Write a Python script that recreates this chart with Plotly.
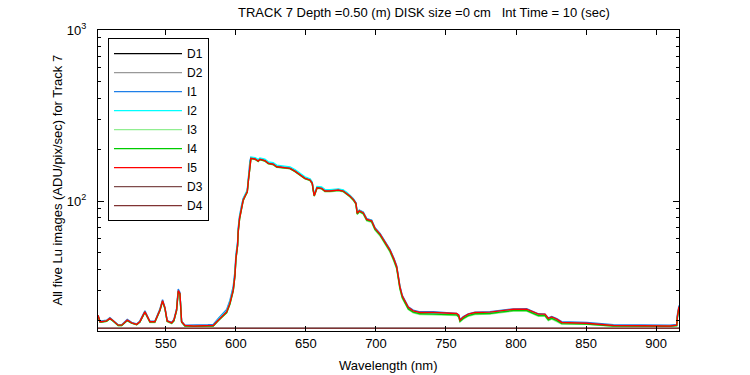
import plotly.graph_objects as go

wavelength = [
    501.5, 502.9, 504.1, 507.6, 510.0, 511.9, 515.9, 518.4, 522.4, 525.5,
    529.1, 531.4, 535.0, 538.6, 542.1, 545.7, 547.6, 549.3, 550.9, 554.1,
    555.7, 557.6, 558.8, 560.0, 561.2, 563.6, 570.0, 575.0, 580.0, 583.8,
    587.4, 593.4, 595.7, 598.1, 599.3, 600.0, 601.2, 601.6, 602.6, 604.1,
    605.2, 606.9, 608.1, 608.8, 609.5, 610.0, 610.7, 613.6, 615.9, 617.1,
    620.7, 623.1, 626.6, 629.1, 632.6, 638.6, 642.1, 645.7, 649.3, 652.9,
    654.5, 655.2, 655.9, 656.9, 657.9, 661.2, 663.6, 667.1, 669.5, 673.1,
    676.6, 679.1, 681.4, 683.8, 685.7, 686.6, 688.1, 690.9, 693.4, 696.9,
    699.3, 702.9, 706.4, 710.0, 712.9, 714.8, 715.9, 717.1, 718.8, 720.7,
    723.1, 726.6, 731.4, 740.9, 750.0, 757.6, 759.1, 760.0, 762.4, 765.9,
    770.7, 781.4, 788.6, 798.1, 807.6, 812.4, 816.0, 820.7, 823.1, 825.5,
    829.1, 832.6, 840.9, 850.5, 869.5, 893.4, 910.0, 914.8, 915.2, 916.4,
]

I1 = [
    21.5, 19.9, 19.9, 20.1, 20.8, 20.2, 18.9, 18.9, 20.3, 19.5,
    19.1, 19.9, 22.8, 19.8, 19.8, 23.4, 26.5, 23.9, 20.0, 19.5,
    20.3, 23.4, 30.6, 29.2, 19.8, 18.8, 18.8, 18.8, 18.9, 19.0,
    20.6, 23.2, 26.2, 31.8, 39.0, 48.5, 58.0, 69.0, 82.0, 95.0,
    103.5, 110.0, 115.0, 133.0, 156.0, 172.5, 179.5, 177.5, 172.8, 176.5,
    173.5, 167.5, 165.5, 160.0, 158.5, 156.5, 151.0, 144.5, 137.0, 133.8,
    128.0, 117.5, 108.5, 114.5, 120.5, 119.6, 115.4, 115.3, 115.7, 116.8,
    115.2, 111.8, 107.8, 103.2, 97.8, 85.6, 88.4, 86.1, 78.9, 77.3,
    69.8, 64.6, 58.3, 52.2, 46.1, 41.7, 36.8, 31.9, 28.1, 26.3,
    24.1, 23.0, 22.5, 22.5, 22.2, 22.0, 21.6, 20.3, 21.1, 21.9,
    22.4, 22.5, 22.9, 23.4, 23.5, 22.6, 21.9, 21.8, 20.7, 21.1,
    20.5, 19.7, 19.6, 19.5, 18.9, 18.8, 18.8, 19.0, 21.5, 24.5,
]

I2 = [
    21.4, 19.7, 19.7, 19.9, 20.5, 20.0, 18.8, 18.8, 20.0, 19.3,
    19.0, 19.6, 22.4, 19.6, 19.6, 22.9, 25.9, 23.5, 19.8, 19.3,
    20.0, 22.9, 29.6, 28.5, 19.6, 18.6, 18.6, 18.6, 18.6, 18.7,
    20.3, 22.8, 25.6, 30.8, 37.6, 47.0, 56.3, 67.3, 80.5, 94.0,
    103.0, 110.5, 116.0, 133.0, 155.5, 173.5, 181.0, 179.5, 175.0, 178.5,
    175.5, 169.5, 167.5, 162.0, 160.5, 158.5, 152.5, 146.0, 138.5, 135.0,
    129.0, 118.0, 109.5, 115.5, 121.5, 120.8, 116.8, 116.6, 116.8, 117.5,
    116.0, 112.5, 108.0, 103.0, 97.5, 85.2, 88.0, 85.8, 78.5, 76.9,
    69.3, 64.1, 57.7, 51.6, 45.5, 41.1, 36.2, 31.3, 27.6, 25.9,
    23.7, 22.6, 22.1, 22.0, 21.8, 21.7, 21.2, 19.9, 20.8, 21.6,
    22.1, 22.2, 22.6, 23.1, 23.1, 22.3, 21.6, 21.5, 20.4, 20.8,
    20.2, 19.4, 19.3, 19.2, 18.7, 18.6, 18.6, 18.8, 20.5, 23.5,
]

I3 = [
    21.3, 19.6, 19.6, 19.8, 20.5, 20.0, 18.7, 18.7, 20.0, 19.3,
    18.9, 19.6, 22.3, 19.5, 19.5, 22.8, 25.8, 23.4, 19.7, 19.2,
    19.9, 22.8, 29.5, 28.4, 19.5, 18.6, 18.5, 18.5, 18.5, 18.6,
    19.9, 22.2, 24.8, 29.7, 36.3, 45.5, 54.5, 65.2, 78.3, 91.8,
    100.5, 107.8, 112.6, 128.8, 150.6, 168.5, 176.5, 175.0, 170.2, 174.2,
    171.0, 165.0, 162.8, 157.5, 156.3, 154.2, 148.5, 142.2, 134.8, 131.7,
    125.9, 115.0, 106.5, 112.3, 118.5, 117.6, 113.4, 113.3, 113.6, 114.8,
    113.2, 109.5, 105.5, 100.8, 95.5, 83.4, 86.2, 83.8, 76.6, 75.0,
    67.6, 62.5, 56.2, 50.2, 44.2, 40.0, 35.2, 30.4, 26.9, 25.3,
    23.2, 22.2, 21.7, 21.6, 21.4, 21.4, 20.9, 19.6, 20.4, 21.2,
    21.7, 21.8, 22.2, 22.7, 22.7, 21.9, 21.2, 21.2, 20.0, 20.4,
    19.8, 19.1, 19.1, 19.0, 18.5, 18.5, 18.5, 18.6, 20.6, 23.8,
]

I4 = [
    21.4, 19.6, 19.6, 19.8, 20.5, 20.0, 18.7, 18.7, 20.0, 19.3,
    18.9, 19.6, 22.4, 19.6, 19.6, 22.9, 25.9, 23.5, 19.8, 19.3,
    19.9, 22.9, 29.6, 28.6, 19.6, 18.6, 18.5, 18.5, 18.6, 18.6,
    20.0, 22.3, 25.0, 29.9, 36.6, 45.8, 54.9, 65.6, 78.7, 92.2,
    100.8, 108.0, 112.9, 129.2, 151.0, 169.0, 177.0, 175.5, 170.8, 174.8,
    171.5, 165.5, 163.4, 158.0, 156.8, 154.7, 149.0, 142.7, 135.3, 132.2,
    126.4, 115.5, 107.0, 112.8, 119.0, 118.1, 113.9, 113.9, 114.2, 115.4,
    113.8, 110.2, 106.2, 101.5, 96.2, 84.0, 86.9, 84.5, 77.4, 75.8,
    68.3, 63.2, 56.9, 50.9, 44.8, 40.6, 35.7, 30.9, 27.3, 25.6,
    23.4, 22.4, 21.9, 21.8, 21.6, 21.6, 21.1, 19.8, 20.6, 21.4,
    21.9, 22.0, 22.4, 22.9, 22.9, 22.1, 21.4, 21.4, 20.2, 20.6,
    20.0, 19.2, 19.2, 19.1, 18.6, 18.5, 18.5, 18.7, 20.8, 24.0,
]

I5 = [
    21.5, 19.7, 19.7, 19.9, 20.6, 20.1, 18.8, 18.8, 20.1, 19.4,
    19.0, 19.7, 22.5, 19.7, 19.7, 23.0, 26.1, 23.7, 19.9, 19.4,
    20.1, 23.0, 29.9, 28.8, 19.7, 18.7, 18.6, 18.6, 18.7, 18.7,
    20.1, 22.5, 25.2, 30.2, 36.9, 46.2, 55.3, 66.1, 79.2, 92.6,
    101.3, 108.4, 113.3, 129.7, 151.7, 169.8, 177.7, 176.1, 171.4, 175.4,
    172.2, 166.1, 164.0, 158.7, 157.4, 155.3, 149.6, 143.2, 135.8, 132.7,
    126.9, 116.0, 107.4, 113.3, 119.6, 118.6, 114.4, 114.4, 114.8, 116.0,
    114.4, 110.9, 106.9, 102.3, 97.0, 84.8, 87.7, 85.4, 78.2, 76.7,
    69.2, 64.1, 57.8, 51.7, 45.6, 41.3, 36.4, 31.5, 27.8, 26.1,
    23.9, 22.8, 22.3, 22.3, 22.1, 22.0, 21.5, 20.1, 21.0, 21.8,
    22.3, 22.4, 22.8, 23.3, 23.3, 22.5, 21.8, 21.8, 20.6, 21.0,
    20.4, 19.5, 19.4, 19.3, 18.7, 18.6, 18.6, 18.8, 21.0, 24.1,
]

dark_wavelength = [501.5, 916.4]
D1 = [18.0, 18.0]
D2 = [18.0, 18.0]
D3 = [18.0, 18.0]
D4 = [18.0, 18.0]

y_tick_vals = [100, 1000]
y_tick_text = ["10<sup>2</sup>", "10<sup>3</sup>"]
y_minor_vals = [20, 30, 40, 50, 60, 70, 80, 90, 200, 300, 400, 500, 600, 700, 800, 900]
x_tick_vals = [550, 600, 650, 700, 750, 800, 850, 900]

series = [
    ("D1", dark_wavelength, D1, "#000000"),
    ("D2", dark_wavelength, D2, "#999999"),
    ("I1", wavelength, I1, "#1f7fe8"),
    ("I2", wavelength, I2, "#00ffff"),
    ("I3", wavelength, I3, "#90ee90"),
    ("I4", wavelength, I4, "#00cc00"),
    ("I5", wavelength, I5, "#ff0000"),
    ("D3", dark_wavelength, D3, "#7f4c4c"),
    ("D4", dark_wavelength, D4, "#803333"),
]

fig = go.Figure()
for name, xs, ys, col in series:
    fig.add_trace(go.Scatter(x=xs, y=ys, name=name, mode="lines",
                             line=dict(color=col, width=1.4)))

font = "Liberation Sans, Arial, sans-serif"
fig.update_layout(
    width=750, height=375,
    margin=dict(l=98, r=71, t=30, b=44),
    paper_bgcolor="white", plot_bgcolor="white",
    font=dict(family=font, size=13, color="black"),
    showlegend=True,
    legend=dict(x=0.0172, y=0.973, xanchor="left", yanchor="top",
                bordercolor="black", borderwidth=1, bgcolor="white",
                font=dict(size=12), tracegroupgap=0, itemwidth=68),
    annotations=[
        dict(text="TRACK 7 Depth =0.50 (m) DISK size =0 cm\u00a0\u00a0 Int Time = 10 (sec)",
             xref="paper", yref="paper", x=(424 - 98) / 581, y=1.0, yshift=18,
             xanchor="center", yanchor="middle", showarrow=False, font=dict(size=13)),
        dict(text="All five Lu images (ADU/pix/sec) for Track 7", textangle=-90,
             xref="paper", yref="paper", x=(57 - 98) / 581, y=0.5,
             xanchor="center", yanchor="middle", showarrow=False, font=dict(size=13)),
        dict(text="Wavelength (nm)", xref="paper", yref="paper",
             x=0.5, y=(331 - 365) / 301, xanchor="center", yanchor="middle",
             showarrow=False, font=dict(size=13)),
    ],
)
fig.update_xaxes(range=[501.5, 916.4], tickvals=x_tick_vals, ticks="inside",
                 ticklen=5, tickcolor="black", showline=True, linecolor="black",
                 linewidth=1, mirror="ticks", showgrid=False, zeroline=False,
                 tickfont=dict(size=13))
fig.update_yaxes(type="log", range=[1.24, 3.0], tickvals=y_tick_vals,
                 ticktext=y_tick_text, ticks="inside", ticklen=6, tickcolor="black",
                 showline=True, linecolor="black", linewidth=1, mirror="ticks",
                 showgrid=False, zeroline=False, tickfont=dict(size=13),
                 ticklabelstandoff=8,
                 minor=dict(tickvals=y_minor_vals, ticks="inside", ticklen=3,
                            tickcolor="black", showgrid=False))

fig.write_html("out.html", config={"displayModeBar": False},
               post_script="document.body.style.margin='0';")
